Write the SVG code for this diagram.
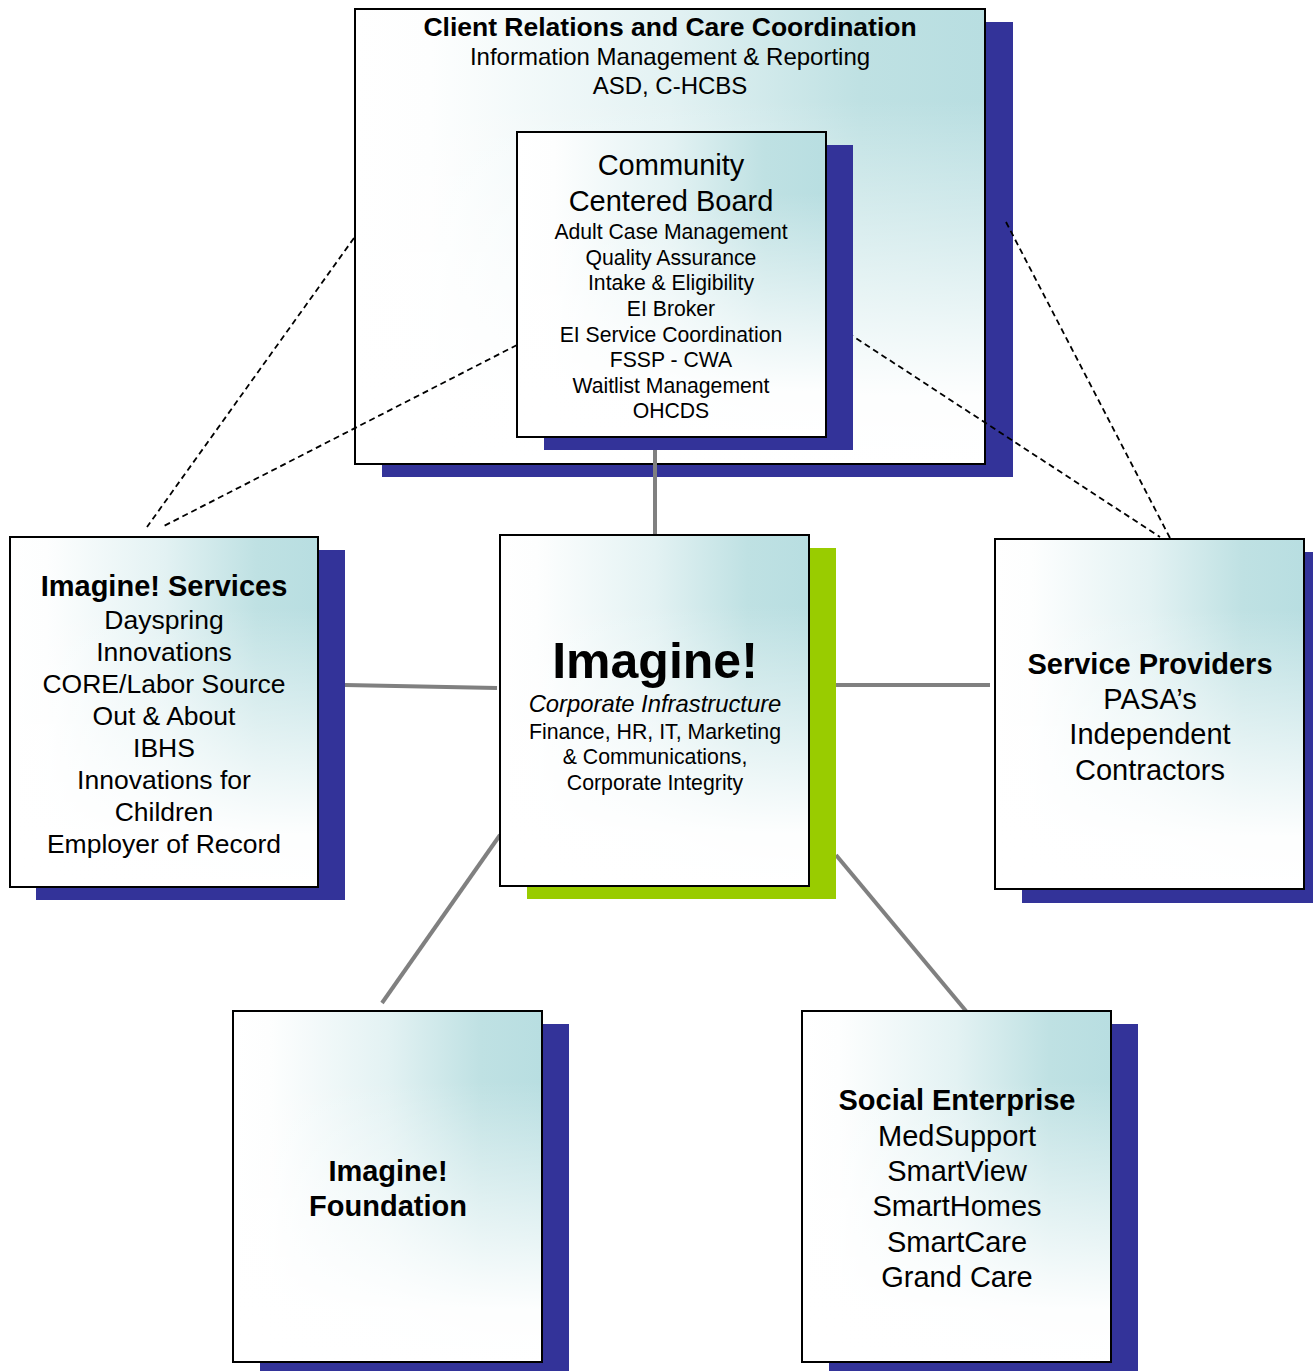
<svg xmlns="http://www.w3.org/2000/svg" width="1313" height="1371" viewBox="0 0 1313 1371">
<defs>
<linearGradient id="gh" x1="0" y1="0" x2="1" y2="0">
<stop offset="0" stop-color="#ffffff"/>
<stop offset="0.12" stop-color="#fdfefe"/>
<stop offset="0.5" stop-color="#e3f2f3"/>
<stop offset="0.8" stop-color="#bfe1e3"/>
<stop offset="1" stop-color="#b8dee1"/>
</linearGradient>
<linearGradient id="gv" x1="0" y1="0" x2="0" y2="1">
<stop offset="0" stop-color="#ffffff" stop-opacity="0"/>
<stop offset="0.2" stop-color="#ffffff" stop-opacity="0"/>
<stop offset="0.6" stop-color="#ffffff" stop-opacity="0.6"/>
<stop offset="0.85" stop-color="#ffffff" stop-opacity="0.97"/>
<stop offset="1" stop-color="#ffffff" stop-opacity="1"/>
</linearGradient>
</defs>
<style>
.sh{fill:#333399;}
.shg{fill:#99cc00;}
.bx{fill:url(#gh);}
.ov{fill:url(#gv);stroke:#000;stroke-width:2;}
text{font-family:"Liberation Sans",Arial,sans-serif;fill:#000;text-anchor:middle;}
.b{font-weight:bold;}
.i{font-style:italic;}
.con{stroke:#808080;stroke-width:4;fill:none;}
.dash{stroke:#000;stroke-width:1.8;stroke-dasharray:6 4;fill:none;}
</style>
<rect width="1313" height="1371" fill="#ffffff"/>

<g id="node-client-relations">
<rect class="sh" x="382" y="22" width="631" height="455"/>
<rect class="bx" x="355" y="9" width="630" height="455"/>
<rect class="ov" x="355" y="9" width="630" height="455"/>
<text class="b" x="670" y="36" font-size="26.5">Client Relations and Care Coordination</text>
<text x="670" y="65" font-size="24">Information Management &amp; Reporting</text>
<text x="670" y="94" font-size="24">ASD, C-HCBS</text>
</g>

<g id="connectors">
<line class="con" x1="655" y1="450" x2="655" y2="535"/>
<line class="con" x1="345" y1="685" x2="497" y2="688"/>
<line class="con" x1="836" y1="685" x2="990" y2="685"/>
<line class="con" x1="500" y1="835" x2="382" y2="1003"/>
<line class="con" x1="836" y1="855" x2="966" y2="1011"/>
<line class="dash" x1="354" y1="238" x2="147" y2="527"/>
<line class="dash" x1="517" y1="345" x2="162" y2="527"/>
<line class="dash" x1="1006" y1="222" x2="1170" y2="538"/>
<line class="dash" x1="848" y1="333" x2="1160" y2="537"/>
</g>

<g id="node-ccb">
<rect class="sh" x="544" y="145" width="309" height="305"/>
<rect class="bx" x="517" y="132" width="309" height="305"/>
<rect class="ov" x="517" y="132" width="309" height="305"/>
<text x="671" y="175" font-size="29">Community</text>
<text x="671" y="211" font-size="29">Centered Board</text>
<text x="671" y="238.5" font-size="21.2">Adult Case Management</text>
<text x="671" y="264.5" font-size="21.2">Quality Assurance</text>
<text x="671" y="289.5" font-size="21.2">Intake &amp; Eligibility</text>
<text x="671" y="315.5" font-size="21.2">EI Broker</text>
<text x="671" y="341.5" font-size="21.2">EI Service Coordination</text>
<text x="671" y="366.5" font-size="21.2">FSSP - CWA</text>
<text x="671" y="392.5" font-size="21.2">Waitlist Management</text>
<text x="671" y="417.5" font-size="21.2">OHCDS</text>
</g>

<g id="node-imagine">
<rect class="shg" x="527" y="548" width="309" height="351"/>
<rect class="bx" x="500" y="535" width="309" height="351"/>
<rect class="ov" x="500" y="535" width="309" height="351"/>
<text class="b" x="655" y="678" font-size="50">Imagine!</text>
<text class="i" x="655" y="712" font-size="23.8">Corporate Infrastructure</text>
<text x="655" y="739" font-size="21.3">Finance, HR, IT, Marketing</text>
<text x="655" y="764" font-size="21.3">&amp; Communications,</text>
<text x="655" y="790" font-size="21.3">Corporate Integrity</text>
</g>

<g id="node-services">
<rect class="sh" x="36" y="550" width="309" height="350"/>
<rect class="bx" x="10" y="537" width="308" height="350"/>
<rect class="ov" x="10" y="537" width="308" height="350"/>
<text class="b" x="164" y="596" font-size="29">Imagine! Services</text>
<text x="164" y="628.5" font-size="26.5">Dayspring</text>
<text x="164" y="660.5" font-size="26.5">Innovations</text>
<text x="164" y="692.5" font-size="26.5">CORE/Labor Source</text>
<text x="164" y="724.5" font-size="26.5">Out &amp; About</text>
<text x="164" y="756.5" font-size="26.5">IBHS</text>
<text x="164" y="788.5" font-size="26.5">Innovations for</text>
<text x="164" y="820.5" font-size="26.5">Children</text>
<text x="164" y="852.5" font-size="26.5">Employer of Record</text>
</g>

<g id="node-providers">
<rect class="sh" x="1022" y="552" width="291" height="351"/>
<rect class="bx" x="995" y="539" width="309" height="350"/>
<rect class="ov" x="995" y="539" width="309" height="350"/>
<text class="b" x="1150" y="673.5" font-size="29">Service Providers</text>
<text x="1150" y="708.5" font-size="29">PASA’s</text>
<text x="1150" y="743.5" font-size="29">Independent</text>
<text x="1150" y="779.5" font-size="29">Contractors</text>
</g>

<g id="node-foundation">
<rect class="sh" x="260" y="1024" width="309" height="347"/>
<rect class="bx" x="233" y="1011" width="309" height="351"/>
<rect class="ov" x="233" y="1011" width="309" height="351"/>
<text class="b" x="388" y="1180.5" font-size="29">Imagine!</text>
<text class="b" x="388" y="1215.5" font-size="29">Foundation</text>
</g>

<g id="node-social">
<rect class="sh" x="829" y="1024" width="309" height="347"/>
<rect class="bx" x="802" y="1011" width="309" height="351"/>
<rect class="ov" x="802" y="1011" width="309" height="351"/>
<text class="b" x="957" y="1109.5" font-size="29">Social Enterprise</text>
<text x="957" y="1145.5" font-size="29">MedSupport</text>
<text x="957" y="1180.5" font-size="29">SmartView</text>
<text x="957" y="1215.5" font-size="29">SmartHomes</text>
<text x="957" y="1251.5" font-size="29">SmartCare</text>
<text x="957" y="1286.5" font-size="29">Grand Care</text>
</g>
</svg>
